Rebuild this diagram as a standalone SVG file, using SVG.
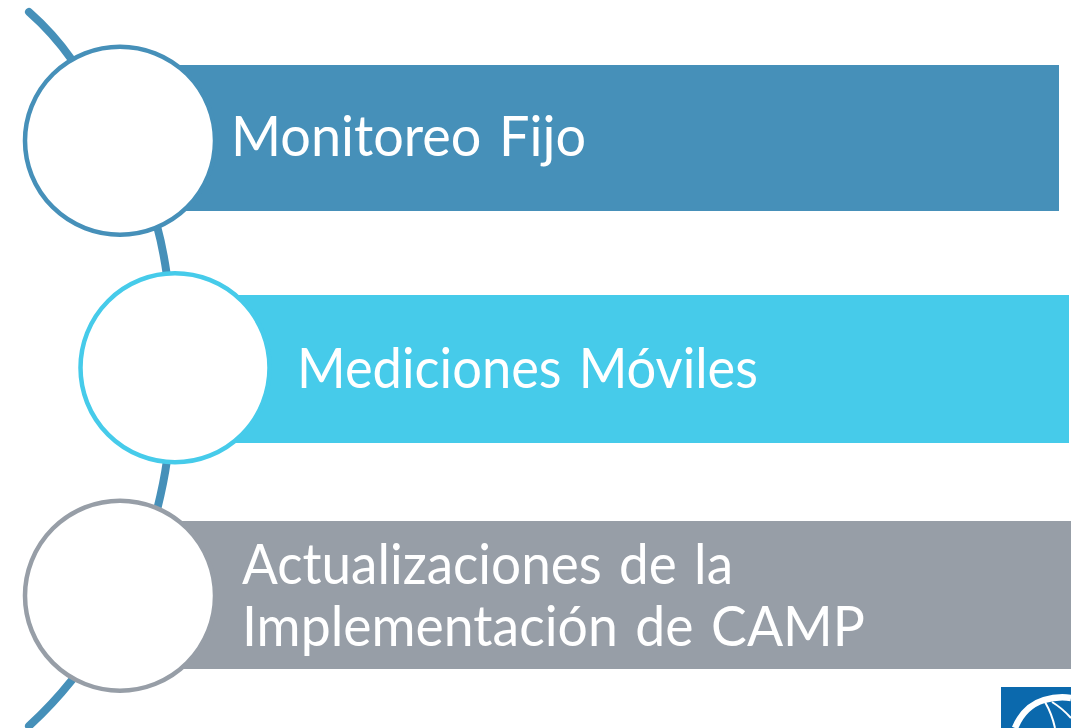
<svg xmlns="http://www.w3.org/2000/svg" width="1071" height="728" viewBox="0 0 1071 728">
<style>
.t{font-family:"Lato","Open Sans","Liberation Sans",sans-serif;fill:#fff;font-size:56px;word-spacing:4px}
.ring{fill:#fff;stroke-width:4.5}
.spine{fill:none;stroke:#4690b9;stroke-width:8}
</style>
<rect width="1071" height="728" fill="#fff"/>
<g id="connectors">
<path class="spine" stroke-linecap="round" d="M29 12 Q53 33 72 60"/>
<path class="spine" d="M157 226 Q163 248 167 276"/>
<path class="spine" d="M167 460 Q164 482 157 510"/>
<path class="spine" stroke-linecap="round" d="M72 680 Q52 705 29 726"/>
</g>
<g id="node-1">
<rect x="150" y="65" width="909" height="146" fill="#4690b9"/>
<ellipse class="ring" cx="120" cy="140.700" rx="95" ry="94" stroke="#4690b9"/>
<text class="t" x="231" y="156" textLength="355" lengthAdjust="spacingAndGlyphs">Monitoreo Fijo</text>
</g>
<g id="node-2">
<rect x="180" y="295" width="889" height="148" fill="#46cbea"/>
<ellipse class="ring" cx="175" cy="367.800" rx="94.500" ry="94.500" stroke="#46cbea"/>
<text class="t" x="297" y="388" textLength="461" lengthAdjust="spacingAndGlyphs">Mediciones Móviles</text>
</g>
<g id="node-3">
<rect x="150" y="521" width="921" height="148" fill="#979ea7"/>
<ellipse class="ring" cx="120" cy="595.700" rx="95" ry="95" stroke="#979ea7"/>
<text class="t" x="242" y="583.500" textLength="491" lengthAdjust="spacingAndGlyphs">Actualizaciones de la</text>
<text class="t" x="242" y="645.500" textLength="623" lengthAdjust="spacingAndGlyphs">Implementación de CAMP</text>
</g>
<g id="logo">
<rect x="1001" y="687" width="70" height="41" fill="#0b69ad"/>
<path d="M1015 728 Q1024 706 1044 700 Q1058 696 1071 698" fill="none" stroke="#fff" stroke-width="6.500"/>
<path d="M1045 702 Q1052 714 1055 728 M1052 702 Q1062 708 1071 718" fill="none" stroke="#fff" stroke-width="2"/>
</g>
</svg>
